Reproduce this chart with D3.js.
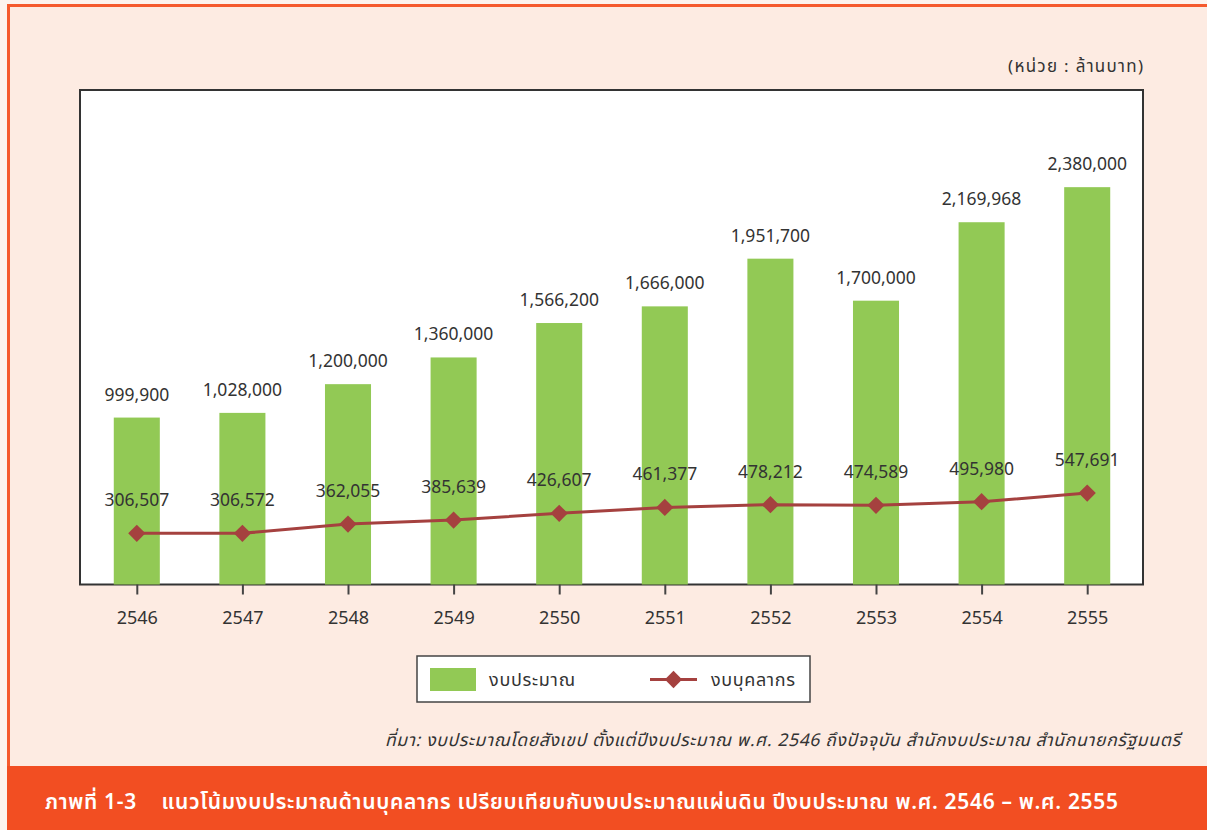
<!DOCTYPE html>
<html>
<head>
<meta charset="utf-8">
<script src="https://cdn.jsdelivr.net/npm/d3@7"></script>
<style>
  body { margin: 0; background: #fdf3ee; }
  svg { display: block; font-family: "Noto Sans Thai", "Noto Sans", "DejaVu Sans", sans-serif; }
</style>
</head>
<body>
<svg id="chart" width="1207" height="830"></svg>
<script>
const years = ['2546', '2547', '2548', '2549', '2550', '2551', '2552', '2553', '2554', '2555']
const budget = [999900, 1028000, 1200000, 1360000, 1566200, 1666000, 1951700, 1700000, 2169968, 2380000]
const personnel = [306507, 306572, 362055, 385639, 426607, 461377, 478212, 474589, 495980, 547691]

const seriesNames = ['งบประมาณ', 'งบบุคลากร']
const unitLabel = '(หน่วย : ล้านบาท)'
const sourceText = 'ที่มา: งบประมาณโดยสังเขป ตั้งแต่ปีงบประมาณ พ.ศ. 2546 ถึงปัจจุบัน สำนักงบประมาณ สำนักนายกรัฐมนตรี'
const captionText = 'ภาพที่ 1-3    แนวโน้มงบประมาณด้านบุคลากร เปรียบเทียบกับงบประมาณแผ่นดิน ปีงบประมาณ พ.ศ. 2546 – พ.ศ. 2555'

const green = '#92c955'
const red = '#a5413f'
const orange = '#f24e22'

const svg = d3.select('#chart')

// page frame
svg.append('rect').attr('x', 8.5).attr('y', 5.5).attr('width', 1210).attr('height', 900)
  .attr('fill', '#fdebe2').attr('stroke', '#f55a2e').attr('stroke-width', 3)

const plot = {left: 80, right: 1143, top: 90, bottom: 584.5}

svg.append('rect')
  .attr('x', plot.left).attr('y', plot.top)
  .attr('width', plot.right - plot.left).attr('height', plot.bottom - plot.top)
  .attr('fill', '#fff').attr('stroke', '#333').attr('stroke-width', 2)

const xScale = d3.scalePoint()
  .domain(years)
  .range([84, 1140])
  .padding(0.5)

const yScale = d3.scaleLinear()
  .domain([0, 2962000])
  .range([plot.bottom, plot.top])

const barWidth = xScale.step() * 0.436
const fmt = d3.format(',')

// bars
svg.append('g').selectAll('rect')
  .data(years)
  .join('rect')
  .attr('x', d => xScale(d) - barWidth / 2)
  .attr('y', (d, i) => yScale(budget[i]))
  .attr('width', barWidth)
  .attr('height', (d, i) => yScale(0) - yScale(budget[i]))
  .attr('fill', green)

// bar labels
svg.append('g').selectAll('text')
  .data(years)
  .join('text')
  .attr('x', d => xScale(d))
  .attr('y', (d, i) => yScale(budget[i]) - 17)
  .attr('text-anchor', 'middle')
  .attr('font-size', 17.5)
  .attr('fill', '#333')
  .text((d, i) => fmt(budget[i]))

// line
const line = d3.line()
  .x((d, i) => xScale(years[i]))
  .y(d => yScale(d))

svg.append('path')
  .datum(personnel)
  .attr('d', line)
  .attr('fill', 'none')
  .attr('stroke', red)
  .attr('stroke-width', 3)

const diamond = d3.symbol().type(d3.symbolDiamond2).size(190)

svg.append('g').selectAll('path')
  .data(personnel)
  .join('path')
  .attr('d', diamond)
  .attr('transform', (d, i) => `translate(${xScale(years[i])},${yScale(d)})`)
  .attr('fill', red)

svg.append('g').selectAll('text')
  .data(personnel)
  .join('text')
  .attr('x', (d, i) => xScale(years[i]))
  .attr('y', d => yScale(d) - 27)
  .attr('text-anchor', 'middle')
  .attr('font-size', 17.5)
  .attr('fill', '#333')
  .text(d => fmt(d))

// x axis
const xAxis = svg.append('g')
  .attr('transform', `translate(0,${plot.bottom})`)
  .call(d3.axisBottom(xScale).tickSize(10).tickPadding(17))
xAxis.select('.domain').remove()
xAxis.selectAll('line').attr('stroke', '#444').attr('stroke-width', 2)
xAxis.selectAll('text').attr('font-size', 18).attr('fill', '#333')
  .attr('font-family', '"Noto Sans", sans-serif')

// unit label
svg.append('text')
  .attr('x', 1143).attr('y', 72)
  .attr('text-anchor', 'end')
  .attr('font-size', 17)
  .attr('fill', '#333')
  .attr('textLength', 135)
  .text(unitLabel)

// legend
const legend = svg.append('g')
legend.append('rect')
  .attr('x', 417).attr('y', 656).attr('width', 393).attr('height', 46)
  .attr('fill', '#fff').attr('stroke', '#444').attr('stroke-width', 1.5)
legend.append('rect')
  .attr('x', 430).attr('y', 668).attr('width', 46).attr('height', 23)
  .attr('fill', green)
legend.append('text')
  .attr('x', 489).attr('y', 686)
  .attr('font-size', 18).attr('fill', '#333')
  .attr('textLength', 86)
  .text(seriesNames[0])
legend.append('line')
  .attr('x1', 650).attr('x2', 697).attr('y1', 679.5).attr('y2', 679.5)
  .attr('stroke', red).attr('stroke-width', 3)
legend.append('path')
  .attr('d', diamond)
  .attr('transform', 'translate(673.5,679.5)')
  .attr('fill', red)
legend.append('text')
  .attr('x', 711).attr('y', 686)
  .attr('font-size', 18).attr('fill', '#333')
  .attr('textLength', 84)
  .text(seriesNames[1])

// source
svg.append('text')
  .attr('x', 1180).attr('y', 746)
  .attr('text-anchor', 'end')
  .attr('font-size', 17.5)
  .attr('font-style', 'italic')
  .attr('fill', '#333')
  .attr('textLength', 795)
  .text(sourceText)

// caption band
svg.append('rect')
  .attr('x', 7).attr('y', 766).attr('width', 1200).attr('height', 64)
  .attr('fill', orange)
svg.append('text')
  .attr('x', 45).attr('y', 809)
  .attr('font-size', 21)
  .attr('font-weight', 600)
  .attr('fill', '#fff')
  .attr('xml:space', 'preserve')
  .attr('textLength', 1073)
  .style('white-space', 'pre')
  .text(captionText)
</script>
</body>
</html>
